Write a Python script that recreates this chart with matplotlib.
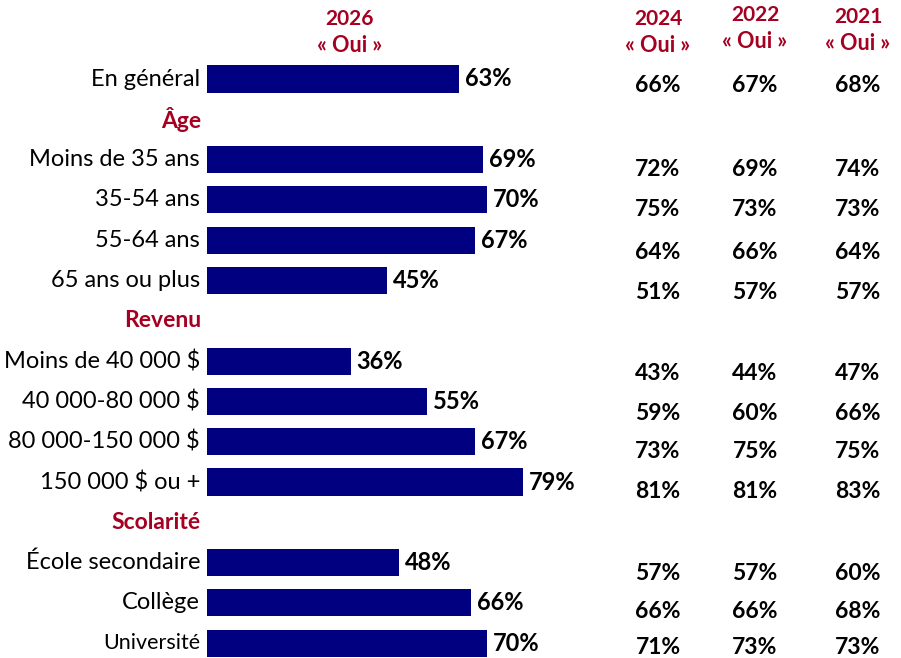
import matplotlib.pyplot as plt
from matplotlib import transforms

plt.rcParams['font.family'] = ['Lato', 'DejaVu Sans']

# rows of the chart; header rows have no bar
labels = ["En général", "Âge", "Moins de 35 ans", "35-54 ans", "55-64 ans",
          "65 ans ou plus", "Revenu", "Moins de 40 000 $", "40 000-80 000 $",
          "80 000-150 000 $", "150 000 $ ou +", "Scolarité",
          "École secondaire", "Collège", "Université"]
is_header = [False, True, False, False, False, False, True, False, False,
             False, False, True, False, False, False]
oui_2026 = [63, None, 69, 70, 67, 45, None, 36, 55, 67, 79, None, 48, 66, 70]
oui_2024 = [66, None, 72, 75, 64, 51, None, 43, 59, 73, 81, None, 57, 66, 71]
oui_2022 = [67, None, 69, 73, 66, 57, None, 44, 60, 75, 81, None, 57, 66, 73]
oui_2021 = [68, None, 74, 73, 64, 57, None, 47, 66, 75, 83, None, 60, 68, 73]

years = ["2024", "2022", "2021"]
history = [oui_2024, oui_2022, oui_2021]

navy = "#000080"
red = "#A50021"

W, H = 901, 658
fig = plt.figure(figsize=(W / 100, H / 100), dpi=100)

# bar axes: 0% at x=207 px, 4 px per percent; rows every 40.3 px starting at 79 px
row_h = 40.3
ax = fig.add_axes([207 / W, 0, 400 / W, 1])
ax.set_xlim(0, 100)
ax.set_ylim((H - 79) / row_h, -79 / row_h)
ax.axis("off")

rows = list(range(len(labels)))
bar_rows = [r for r in rows if not is_header[r]]
bar_vals = [oui_2026[r] for r in bar_rows]
ax.barh(bar_rows, bar_vals, height=0.67, color=navy)

for r, v in zip(bar_rows, bar_vals):
    ax.annotate(f"{v}%", (v, r), xytext=(4, 0), textcoords="offset points",
                ha="left", va="center", fontsize=17, fontweight="bold")

# row labels, right aligned just left of the bars
lab_tr = transforms.blended_transform_factory(fig.transFigure, ax.transData)
for r in rows:
    if is_header[r]:
        ax.text(201 / W, r, labels[r], transform=lab_tr, ha="right", va="center",
                fontsize=16.5, fontweight="bold", color=red)
    else:
        fs = 15.5 if labels[r] == "Université" else 17
        ax.text(200 / W, r, labels[r], transform=lab_tr, ha="right", va="center",
                fontsize=fs, color="black")

# column headers
ax.text(350 / W, -1.5, "2026", transform=lab_tr, ha="center", va="center",
        fontsize=15, fontweight="bold", color=red)
ax.text(350 / W, -0.84, "« Oui »", transform=lab_tr, ha="center", va="center",
        fontsize=15.5, fontweight="bold", color=red)

# earlier years table, slightly below the bar rows
col_x = [658, 755, 858]
head_dy = [0, -0.1, -0.05]
table_dy_px = [7, 10, 10, 12, 12, 12, 12, 10, 10, 11, 9, 4]
for yr, xs, dy, vals in zip(years, col_x, head_dy, history):
    ax.text(xs / W, -1.5 + dy, yr, transform=lab_tr, ha="center", va="center",
            fontsize=15, fontweight="bold", color=red)
    ax.text(xs / W, -0.84 + dy, "« Oui »", transform=lab_tr, ha="center",
            va="center", fontsize=15.5, fontweight="bold", color=red)
    for r, d in zip(bar_rows, table_dy_px):
        ax.text(xs / W, r + d / row_h, f"{vals[r]}%", transform=lab_tr,
                ha="center", va="center", fontsize=16.5, fontweight="bold",
                color="black")

fig.savefig("out.png", dpi=100)
